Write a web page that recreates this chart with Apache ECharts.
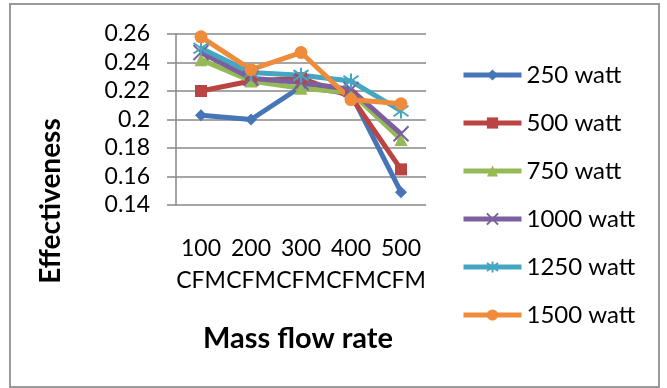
<!DOCTYPE html>
<html>
<head>
<meta charset="utf-8">
<script src="https://cdn.jsdelivr.net/npm/echarts@6/dist/echarts.min.js"></script>
<style>
html,body{margin:0;padding:0;background:#fff;}
#c{width:667px;height:388px;}
</style>
</head>
<body>
<div id="c"></div>
<script>
const categories = ['100 CFM', '200 CFM', '300 CFM', '400 CFM', '500 CFM'];
const seriesNames = ['250 watt', '500 watt', '750 watt', '1000 watt', '1250 watt', '1500 watt'];
const s250 = [0.203, 0.200, 0.223, 0.218, 0.149];
const s500 = [0.220, 0.227, 0.229, 0.216, 0.165];
const s750 = [0.242, 0.227, 0.222, 0.219, 0.186];
const s1000 = [0.247, 0.229, 0.226, 0.221, 0.190];
const s1250 = [0.250, 0.233, 0.231, 0.227, 0.206];
const s1500 = [0.258, 0.235, 0.247, 0.214, 0.211];
const yMin = 0.14, yMax = 0.26, yStep = 0.02;
const xTitle = 'Mass flow rate';
const yTitle = 'Effectiveness';

const colors = ['#4675B8', '#BA4441', '#95B955', '#7B5F9E', '#45A6C2', '#EE8C3C'];
const symbols = [
  'diamond', 'rect', 'triangle',
  'path://M0,0L10,10M10,0L0,10',
  'path://M0,1.5L10,8.5M10,1.5L0,8.5M5,0L5,10',
  'circle'
];
const symbolSizes = [12, 12, 13, 15, 15, 13];
const allData = [s250, s500, s750, s1000, s1250, s1500];
const FONT = 'Lato';

const chart = echarts.init(document.getElementById('c'), null, {renderer: 'canvas'});
const series = allData.map((d, i) => {
  const stroke = i === 3 || i === 4;
  return {
    name: seriesNames[i],
    type: 'line',
    data: d,
    symbol: symbols[i],
    symbolSize: symbolSizes[i],
    showAllSymbol: true,
    lineStyle: {color: colors[i], width: 5},
    itemStyle: stroke ? {color: colors[i], borderColor: colors[i], borderWidth: 2} : {color: colors[i], borderWidth: 0},
    emphasis: {disabled: true},
    animation: false
  };
});

chart.setOption({
  animation: false,
  graphic: [{
    type: 'rect',
    shape: {x: 10, y: 4, width: 649, height: 383},
    style: {fill: 'none', stroke: '#999', lineWidth: 2},
    silent: true
  }, {
    type: 'text',
    x: 51, y: 201,
    rotation: Math.PI / 2,
    style: {
      text: yTitle,
      fontFamily: FONT, fontSize: 28, fontWeight: 'bold', fill: '#000',
      align: 'center', verticalAlign: 'middle'
    },
    silent: true
  }],
  grid: {left: 176, right: 241, top: 34, bottom: 183},
  legend: {
    orient: 'vertical',
    left: 456,
    top: 58,
    itemWidth: 58,
    itemHeight: 14,
    itemGap: 24,
    lineStyle: {width: 5},
    textStyle: {fontFamily: FONT, fontSize: 24, color: '#000', lineHeight: 24},
    data: seriesNames
  },
  xAxis: {
    type: 'category',
    data: categories,
    boundaryGap: true,
    name: xTitle,
    nameLocation: 'middle',
    nameGap: 119,
    nameTextStyle: {fontFamily: FONT, fontSize: 29, fontWeight: 'bold', color: '#000', verticalAlign: 'top', padding: [0, 6, 0, 0]},
    axisLine: {show: false},
    axisTick: {show: false},
    axisLabel: {
      interval: 0,
      margin: 28,
      fontFamily: FONT,
      fontSize: 23,
      color: '#000',
      lineHeight: 32,
      formatter: v => v.replace(' ', '\n')
    },
    splitLine: {show: false}
  },
  yAxis: {
    type: 'value',
    min: yMin,
    max: yMax,
    interval: yStep,
    axisLine: {show: true, lineStyle: {color: '#888', width: 1.5}},
    axisTick: {show: true, inside: false, length: 9, lineStyle: {color: '#888', width: 1.5}},
    axisLabel: {
      margin: 26,
      fontFamily: FONT,
      fontSize: 23,
      color: '#000',
      formatter: v => String(parseFloat(v.toFixed(2)))
    },
    splitLine: {show: true, lineStyle: {color: '#888', width: 1.5}}
  },
  series: series
});
</script>
</body>
</html>
